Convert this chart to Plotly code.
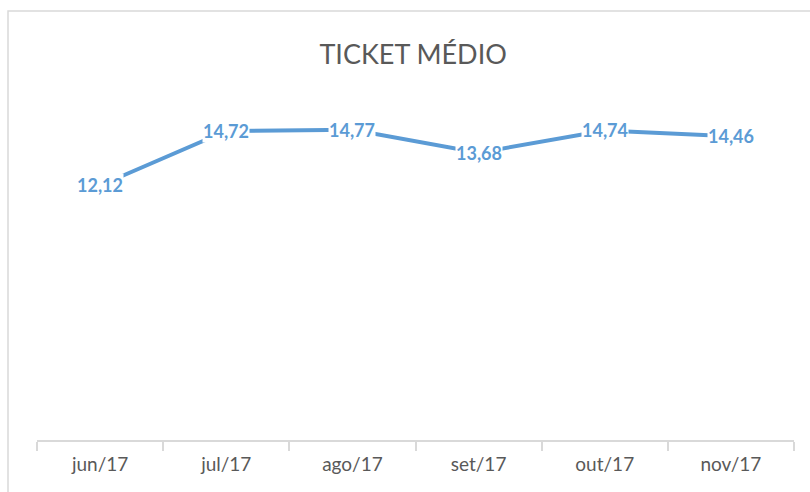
import plotly.graph_objects as go

categories = ["jun/17", "jul/17", "ago/17", "set/17", "out/17", "nov/17"]
values = [12.12, 14.72, 14.77, 13.68, 14.74, 14.46]
labels = ["12,12", "14,72", "14,77", "13,68", "14,74", "14,46"]
title_text = "TICKET MÉDIO"

BLUE = "#5B9BD5"
FONT = "Lato, Carlito, Calibri, sans-serif"

fig = go.Figure()
fig.add_trace(go.Scatter(
    x=categories, y=values, mode="lines",
    line=dict(color=BLUE, width=4),
    hoverinfo="skip", showlegend=False,
))

for c, v, t in zip(categories, values, labels):
    fig.add_annotation(
        x=c, y=v, text="<b>%s</b>" % t, showarrow=False,
        font=dict(family=FONT, size=18, color=BLUE),
        bgcolor="white", borderpad=0,
        xref="x", yref="y",
    )

# chart border
fig.add_shape(type="rect", xref="paper", yref="paper",
              x0=-0.0383, x1=1.2, y0=-0.5, y1=1.277,
              line=dict(color="#D9D9D9", width=1.5), layer="below")

fig.update_layout(
    width=810, height=492,
    margin=dict(l=37, r=16, t=104, b=52),
    paper_bgcolor="white", plot_bgcolor="white",
    title=dict(text=title_text, x=0.51, xanchor="center", y=0.89, yanchor="middle",
               font=dict(family=FONT, size=27, color="#595959")),
    xaxis=dict(
        type="category", range=[-0.5, 5.5],
        showline=True, linecolor="#D9D9D9", linewidth=1.5,
        ticks="outside", tickson="boundaries", ticklen=9, tickcolor="#D9D9D9", tickwidth=1.5,
        ticklabelstandoff=6,
        showgrid=False, zeroline=False,
        tickfont=dict(family=FONT, size=19, color="#595959"),
    ),
    yaxis=dict(range=[0, 16], visible=False, showgrid=False, zeroline=False),
)

fig.write_html("out.html", config={"displayModeBar": False},
               post_script="document.body.style.margin='0';")
